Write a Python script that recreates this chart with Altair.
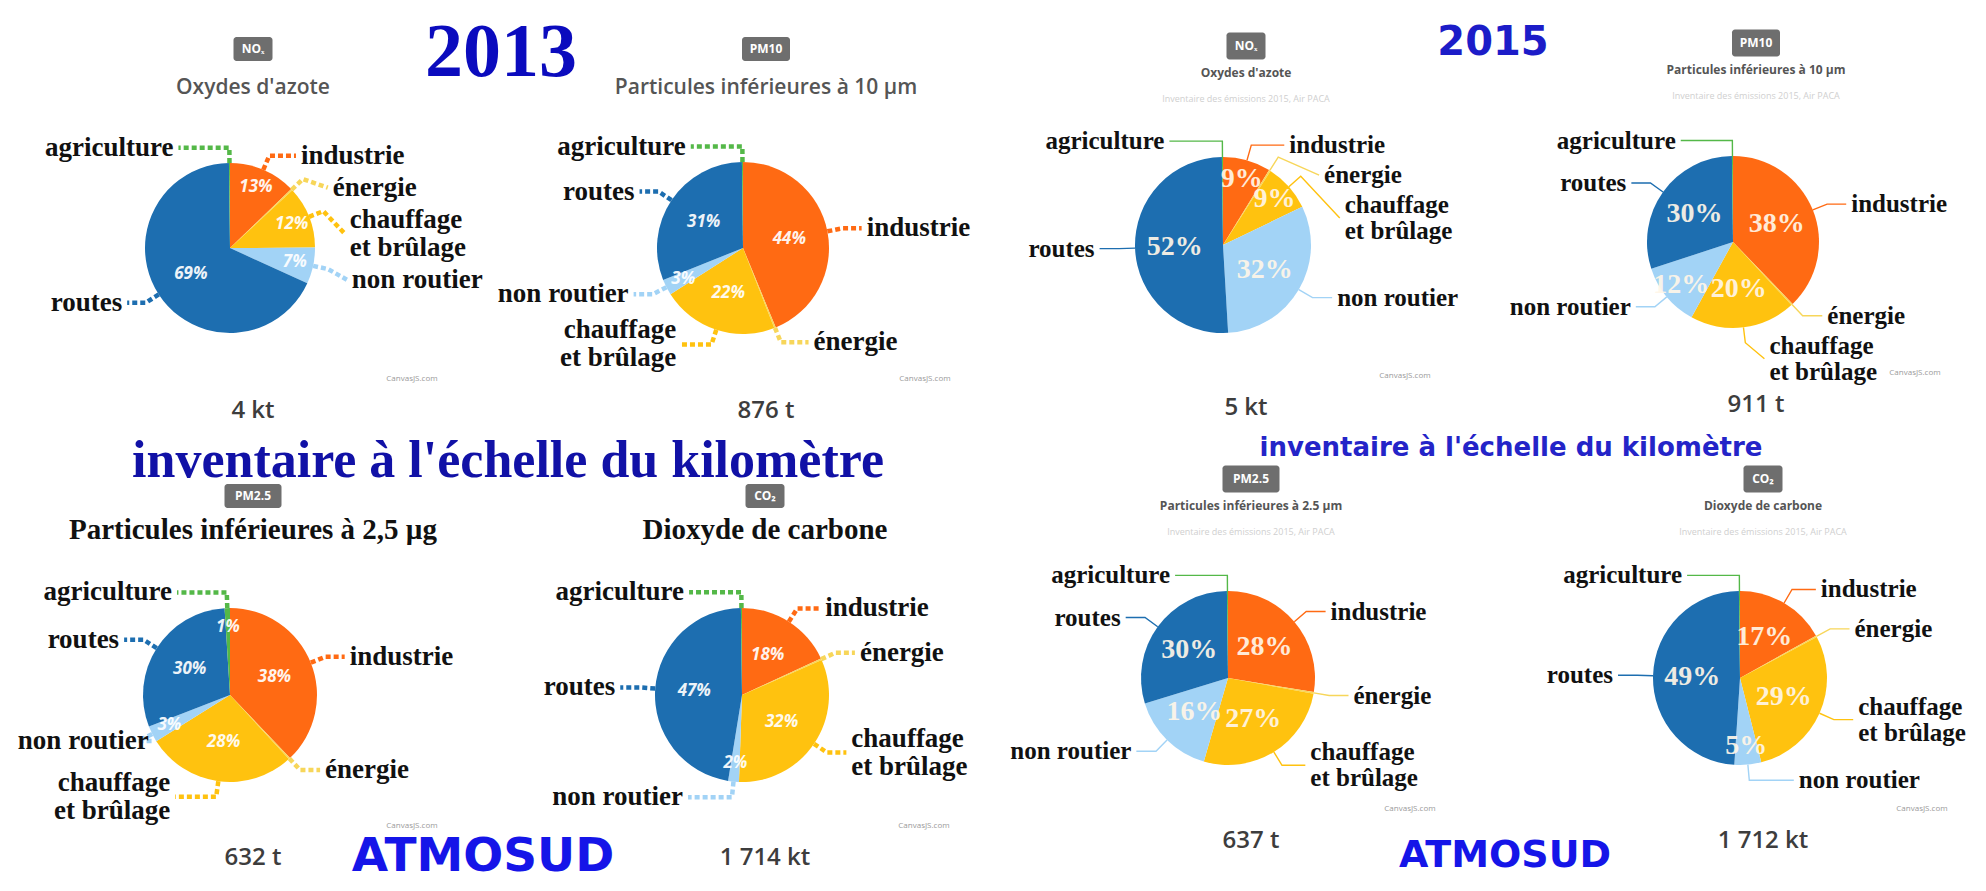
import math
import altair as alt
import pandas as pd

# ---------------- data ----------------
CATEGORIES = ["industrie", "énergie", "chauffage et brûlage", "non routier", "routes", "agriculture"]
CAT_LABELS = ["industrie", "énergie", "chauffage\net brûlage", "non routier", "routes", "agriculture"]

PANEL_YEAR = ["2013", "2013", "2013", "2013", "2015", "2015", "2015", "2015"]
PANEL_BADGE = ["NOₓ", "PM10", "PM2.5", "CO₂", "NOₓ", "PM10", "PM2.5", "CO₂"]
PANEL_TITLE = [
    "Oxydes d'azote", "Particules inférieures à 10 µm",
    "Particules inférieures à 2,5 µg", "Dioxyde de carbone",
    "Oxydes d'azote", "Particules inférieures à 10 µm",
    "Particules inférieures à 2.5 µm", "Dioxyde de carbone",
]
PANEL_TOTAL = ["4 kt", "876 t", "632 t", "1 714 kt", "5 kt", "911 t", "637 t", "1 712 kt"]
SOURCE_2015 = "Inventaire des émissions 2015, Air PACA"
CREDIT = "CanvasJS.com"

# shares in % : industrie, énergie, chauffage et brûlage, non routier, routes, agriculture
SHARES_2013_NOX = [13, 0.3, 12, 7, 69, 0.2]
SHARES_2013_PM10 = [44, 0.3, 22, 3, 31, 0.2]
SHARES_2013_PM25 = [38, 0.3, 28, 3, 30, 1]
SHARES_2013_CO2 = [18, 0.3, 32, 2, 47, 0.2]
SHARES_2015_NOX = [9, 0.3, 9, 32, 52, 0.2]
SHARES_2015_PM10 = [38, 0.3, 20, 12, 30, 0.2]
SHARES_2015_PM25 = [28, 0.3, 27, 16, 30, 0.2]
SHARES_2015_CO2 = [17, 0.3, 29, 5, 49, 0.2]
SHARES = [SHARES_2013_NOX, SHARES_2013_PM10, SHARES_2013_PM25, SHARES_2013_CO2,
          SHARES_2015_NOX, SHARES_2015_PM10, SHARES_2015_PM25, SHARES_2015_CO2]

BIG_2013 = ["2013", "inventaire à l'échelle du kilomètre", "ATMOSUD"]
BIG_2015 = ["2015", "inventaire à l'échelle du kilomètre", "ATMOSUD"]

# ---------------- layout (chart pixels) ----------------
W, H = 1970, 875
PIE_CX = [222, 735, 222, 734, 1215, 1725, 1220, 1732]
PIE_CY = [240, 240, 687, 687, 237, 234, 670, 670]
PIE_R = [85, 86, 87, 87, 88, 86, 87, 87]
LABEL_FS = {"2013": 27, "2015": 25}
LINE_H = {"2013": 28, "2015": 26}
GAP = 4
EDGE = 4

PIE_COLORS = ["#FF6A13", "#F7D65A", "#FFC20F", "#A2D3F6", "#1D6EB0", "#54B848"]
LEAD_2013 = ["#F3C77E", "#EDE86A", "#F4C2AE", "#3ADCEB", "#3535B5", "#3FD43F"]
LEAD_2015 = ["#D16670", "#EEE3B5", "#EFC64E", "#6CD6D6", "#6457A6", "#62C462"]

XS = alt.Scale(domain=[0, W], range=[0, W], nice=False, zero=False)
YS = alt.Scale(domain=[0, H], range=[0, H], nice=False, zero=False)


def X(f):
    return alt.X(f"{f}:Q", scale=XS, axis=None)


def Y(f):
    return alt.Y(f"{f}:Q", scale=YS, axis=None)


def text_width(t, fs):
    return max(len(line) for line in t.split("\n")) * 0.46 * fs


# ---------------- derived tables ----------------
slice_rows, pct_rows, label_rows, lead_rows, head_rows = [], [], [], [], []
for p in range(8):
    vals = SHARES[p]
    tot = sum(vals)
    cx, cy, R = PIE_CX[p], PIE_CY[p], PIE_R[p]
    year = PANEL_YEAR[p]
    lh, fs = LINE_H[year], LABEL_FS[year]
    cum = 0.0
    items = []
    for i, (cat, v) in enumerate(zip(CATEGORIES, vals)):
        f0 = cum / tot
        cum += v
        f1 = cum / tot
        slice_rows.append(dict(panel=p, year=year, cat=cat, f0=f0, f1=f1, cx=cx, cy=cy, R=R, idx=i))
        mid = (f0 + f1) / 2 * 2 * math.pi
        s, c = math.sin(mid), math.cos(mid)
        if v >= 1:
            rr = 0.55 * R if (f1 - f0) >= 0.15 else 0.78 * R
            pct_rows.append(dict(panel=p, year=year, x=cx + rr * s, y=cy - rr * c, t=f"{v:g}%"))
        side = 1 if s >= 0 else -1
        ex, ey = cx + R * s, cy - R * c
        bx, by = cx + 1.18 * R * s, cy - 1.18 * R * c
        nlines = CAT_LABELS[i].count("\n") + 1
        items.append(dict(cat=cat, i=i, side=side, ex=ex, ey=ey, bx=bx, by=by, ly=by,
                          n=nlines, h=nlines * lh))
    for side in (1, -1):
        its = sorted([it for it in items if it["side"] == side], key=lambda it: it["ly"])
        for k in range(1, len(its)):
            need = its[k - 1]["ly"] + (its[k - 1]["h"] + its[k]["h"]) / 2 + GAP
            if its[k]["ly"] < need:
                its[k]["ly"] = need
    for it in items:
        side = it["side"]
        dy = it["ly"] - cy
        base = abs(it["bx"] - cx) + 0.28 * R
        lim = 1.3 * R
        clear = math.sqrt(lim * lim - dy * dy) + 0.12 * R if abs(dy) < lim else 0
        lx = cx + side * max(base, clear)
        tw = text_width(CAT_LABELS[it["i"]], fs)
        if side < 0:
            lx = max(lx, EDGE + tw)
        else:
            lx = min(lx, W - EDGE - tw)
        label_rows.append(dict(panel=p, year=year, side=side, x=lx,
                               y=it["ly"] - (it["n"] - 1) * lh / 2,
                               t=CAT_LABELS[it["i"]]))
        key = f"{p}-{it['cat']}"
        ck = f"{year}|{it['cat']}"
        pts = [(it["ex"], it["ey"]), (it["bx"], it["by"]), (lx - side * 5, it["ly"])]
        for k, (px, py) in enumerate(pts):
            lead_rows.append(dict(year=year, key=key, ck=ck, k=k, x=px, y=py))
    hx = cx + 23
    bw = 12 + 9 * len(PANEL_BADGE[p])
    bh = 24 if year == "2013" else 27
    by_ = cy - 199
    if year == "2015":
        sub_style, sub_y = "s15", cy - 172
    elif PANEL_BADGE[p] in ("PM2.5", "CO₂"):
        sub_style, sub_y = "serif", cy - 165
    else:
        sub_style, sub_y = "s13", cy - 160
    head_rows.append(dict(panel=p, year=year, hx=hx, bx0=hx - bw / 2, bx1=hx + bw / 2,
                          by0=by_ - bh / 2, by1=by_ + bh / 2, by=by_, badge=PANEL_BADGE[p],
                          sub=PANEL_TITLE[p], sub_style=sub_style, sub_y=sub_y,
                          src_y=cy - 146, tot=PANEL_TOTAL[p], tot_y=cy + 163,
                          cr_x=cx + 182, cr_y=cy + 131))

slices = pd.DataFrame(slice_rows)
pcts = pd.DataFrame(pct_rows)
labels = pd.DataFrame(label_rows)
leads = pd.DataFrame(lead_rows)
heads = pd.DataFrame(head_rows)

lead_domain = [f"2013|{c}" for c in CATEGORIES] + [f"2015|{c}" for c in CATEGORIES]
lead_range = LEAD_2013 + LEAD_2015
lead_scale = alt.Scale(domain=lead_domain, range=lead_range)

layers = []

# pies
layers.append(alt.Chart(slices).mark_arc().encode(
    x=X("cx"), y=Y("cy"),
    theta=alt.Theta("f0:Q", scale=alt.Scale(domain=[0, 1], range=[0, 2 * math.pi])),
    theta2="f1:Q",
    radius=alt.Radius("R:Q", scale=None),
    color=alt.Color("cat:N", scale=alt.Scale(domain=CATEGORIES, range=PIE_COLORS), legend=None),
    order=alt.Order("idx:Q"),
))

# leader lines
layers.append(alt.Chart(leads[leads.year == "2013"]).mark_line(
    strokeWidth=4.5, strokeDash=[5, 3], strokeCap="butt").encode(
    x=X("x"), y=Y("y"), detail="key:N", order="k:Q",
    color=alt.Color("ck:N", scale=lead_scale, legend=None)))
layers.append(alt.Chart(leads[leads.year == "2015"]).mark_line(strokeWidth=1.4).encode(
    x=X("x"), y=Y("y"), detail="key:N", order="k:Q",
    color=alt.Color("ck:N", scale=lead_scale, legend=None)))

# percent labels
layers.append(alt.Chart(pcts[pcts.year == "2013"]).mark_text(
    font="Open Sans", fontStyle="italic", fontWeight="bold", fontSize=17, color="white",
    opacity=0.92).encode(x=X("x"), y=Y("y"), text="t:N"))
layers.append(alt.Chart(pcts[pcts.year == "2015"]).mark_text(
    font="Liberation Serif", fontWeight="bold", fontSize=28, color="#FFF6E8",
    opacity=0.92).encode(x=X("x"), y=Y("y"), text="t:N"))

# category labels
for year in ("2013", "2015"):
    for side, al in ((1, "left"), (-1, "right")):
        sub = labels[(labels.side == side) & (labels.year == year)]
        layers.append(alt.Chart(sub).mark_text(
            font="Liberation Serif", fontWeight="bold", fontSize=LABEL_FS[year], color="#111111",
            align=al, baseline="middle", lineBreak="\n", lineHeight=LINE_H[year]).encode(
            x=X("x"), y=Y("y"), text="t:N"))

# badges
layers.append(alt.Chart(heads).mark_rect(cornerRadius=3, color="#6E6E6E").encode(
    x=X("bx0"), x2="bx1:Q", y=Y("by0"), y2="by1:Q"))
layers.append(alt.Chart(heads).mark_text(
    font="Open Sans", fontWeight="bold", fontSize=12, color="white").encode(
    x=X("hx"), y=Y("by"), text="badge:N"))

# subtitles
layers.append(alt.Chart(heads[heads.sub_style == "s13"]).mark_text(
    font="Open Sans", fontWeight=600, fontSize=21, color="#555555").encode(
    x=X("hx"), y=Y("sub_y"), text="sub:N"))
layers.append(alt.Chart(heads[heads.sub_style == "serif"]).mark_text(
    font="Liberation Serif", fontWeight="bold", fontSize=29, color="#111111").encode(
    x=X("hx"), y=Y("sub_y"), text="sub:N"))
layers.append(alt.Chart(heads[heads.sub_style == "s15"]).mark_text(
    font="Open Sans", fontWeight="bold", fontSize=12, color="#555555").encode(
    x=X("hx"), y=Y("sub_y"), text="sub:N"))
src = heads[heads.year == "2015"].assign(src=SOURCE_2015)
layers.append(alt.Chart(src).mark_text(
    font="Open Sans", fontSize=9, color="#CFCFCF").encode(
    x=X("hx"), y=Y("src_y"), text="src:N"))

# totals and credits
layers.append(alt.Chart(heads).mark_text(
    font="Open Sans", fontWeight=600, fontSize=24, color="#3D3D3D").encode(
    x=X("hx"), y=Y("tot_y"), text="tot:N"))
layers.append(alt.Chart(heads.assign(cr=CREDIT)).mark_text(
    font="Open Sans", fontSize=8, color="#9A9A9A").encode(
    x=X("cr_x"), y=Y("cr_y"), text="cr:N"))

# big overlay titles
BIG_POS_2013 = [(493, 68), (500, 469), (475, 863)]
BIG_POS_2015 = [(1485, 47), (1503, 448), (1497, 859)]
big_styles_2013 = [
    dict(font="Liberation Serif", fontWeight="bold", fontSize=76, color="#0B0BBE"),
    dict(font="Liberation Serif", fontWeight="bold", fontSize=52, color="#1111A6"),
    dict(font="DejaVu Sans", fontWeight="bold", fontSize=47, color="#1515E8"),
]
big_styles_2015 = [
    dict(font="DejaVu Sans", fontWeight="bold", fontSize=40, color="#1C1CC8"),
    dict(font="DejaVu Sans", fontWeight="bold", fontSize=26, color="#2424C8"),
    dict(font="DejaVu Sans", fontWeight="bold", fontSize=38, color="#1515E8"),
]
for texts, poss, styles in ((BIG_2013, BIG_POS_2013, big_styles_2013),
                            (BIG_2015, BIG_POS_2015, big_styles_2015)):
    for t, (px, py), st in zip(texts, poss, styles):
        df = pd.DataFrame({"t": [t], "x": [px], "y": [py]})
        layers.append(alt.Chart(df).mark_text(baseline="alphabetic", **st).encode(
            x=X("x"), y=Y("y"), text="t:N"))

chart = alt.layer(*layers).properties(
    width=W, height=H, padding=0, background="white",
    autosize=alt.AutoSizeParams(type="none"),
).configure_view(stroke=None)

chart.save("out.html", embed_options={"renderer": "svg", "actions": False})
